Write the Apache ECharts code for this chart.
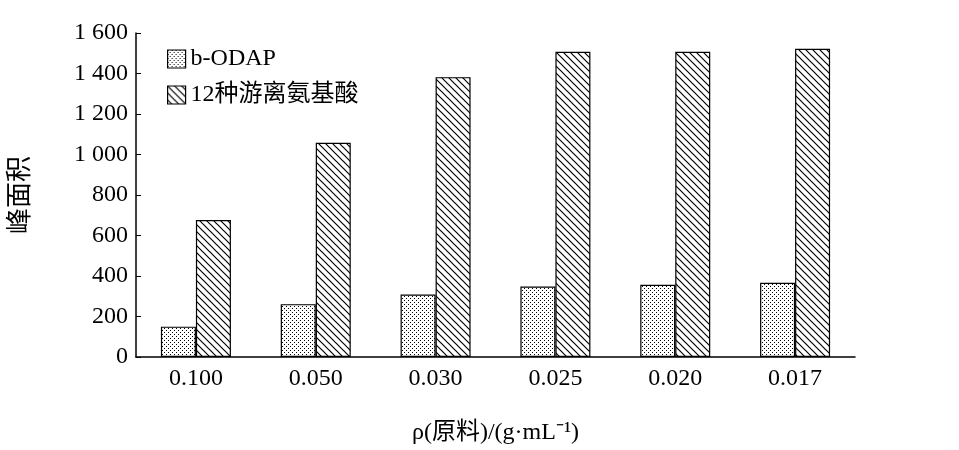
<!DOCTYPE html>
<html>
<head>
<meta charset="utf-8">
<script src="https://cdn.jsdelivr.net/npm/echarts@6/dist/echarts.min.js"></script>
<style>html,body{margin:0;background:#fff}#c{width:959px;height:450px}</style>
</head>
<body>
<div id="c"></div>
<script>
let categories = ['0.100', '0.050', '0.030', '0.025', '0.020', '0.017'];
let odapValues = [150, 261, 309, 348, 357, 367];
let aminoValues = [676, 1058, 1382, 1507, 1507, 1522];

function dotPattern() {
    let c = document.createElement('canvas');
    c.width = 4; c.height = 4;
    let g = c.getContext('2d');
    g.fillStyle = '#fff'; g.fillRect(0, 0, 4, 4);
    g.fillStyle = '#000';
    g.fillRect(0, 0, 1, 1);
    g.fillRect(2, 2, 1, 1);
    return c;
}
function hatchPattern() {
    let s = 7;
    let c = document.createElement('canvas');
    c.width = s; c.height = s;
    let g = c.getContext('2d');
    g.fillStyle = '#fff'; g.fillRect(0, 0, s, s);
    g.strokeStyle = '#000'; g.lineWidth = 1.2;
    g.beginPath();
    g.moveTo(0, 0); g.lineTo(s, s);
    g.moveTo(-s, 0); g.lineTo(s, 2 * s);
    g.moveTo(0, -s); g.lineTo(2 * s, s);
    g.stroke();
    return c;
}

let font = '"Liberation Serif", "Noto Sans CJK SC", serif';
let chart = echarts.init(document.getElementById('c'));
chart.setOption({
    animation: false,
    textStyle: { fontFamily: font },
    grid: { left: 135, right: 104, top: 33, bottom: 86 },
    legend: {
        orient: 'vertical', left: 162, top: 42, itemGap: 12, icon: 'rect',
        itemWidth: 18, itemHeight: 18,
        textStyle: { fontSize: 24, color: '#000', fontFamily: font },
        itemStyle: { borderColor: '#000', borderWidth: 1.2 },
        data: ['b-ODAP', '12种游离氨基酸']
    },
    xAxis: {
        type: 'category', data: categories,
        axisLine: { lineStyle: { color: '#000', width: 1.5 } },
        axisTick: { show: false },
        axisLabel: { color: '#000', fontSize: 24, margin: 10, fontFamily: font },
        name: 'ρ(原料)/(g·mL⁻¹)', nameLocation: 'middle', nameGap: 64,
        nameTextStyle: { color: '#000', fontSize: 24, fontFamily: font }
    },
    yAxis: {
        type: 'value', min: 0, max: 1600, interval: 200,
        axisLine: { show: true, lineStyle: { color: '#000', width: 1.5 } },
        axisTick: { show: true, inside: true, length: 5, lineStyle: { color: '#000' } },
        splitLine: { show: false },
        axisLabel: {
            color: '#000', fontSize: 24, fontFamily: font, margin: 8,
            formatter: v => v >= 1000 ? Math.floor(v / 1000) + ' ' + String(v % 1000).padStart(3, '0') : String(v)
        },
        name: '峰面积', nameLocation: 'middle', nameGap: 102,
        nameTextStyle: { color: '#000', fontSize: 26, fontFamily: font }
    },
    series: [
        {
            name: 'b-ODAP', type: 'bar', data: odapValues, barWidth: 35, barGap: '0%',
            itemStyle: { color: { image: dotPattern(), repeat: 'repeat' }, borderColor: '#000', borderWidth: 1.2 }
        },
        {
            name: '12种游离氨基酸', type: 'bar', data: aminoValues, barWidth: 35,
            itemStyle: { color: { image: hatchPattern(), repeat: 'repeat' }, borderColor: '#000', borderWidth: 1.2 }
        }
    ]
});
</script>
</body>
</html>
